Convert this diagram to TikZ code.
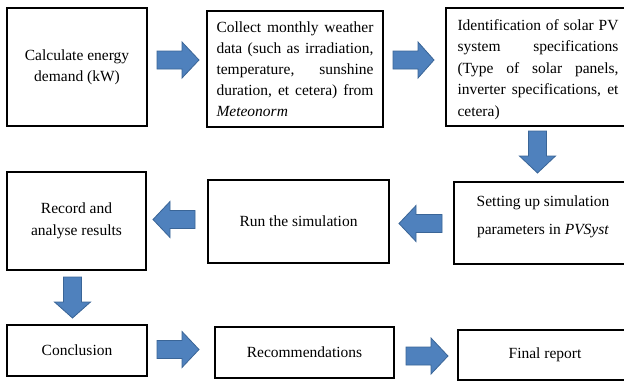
\documentclass[tikz,border=0pt]{standalone}
\usepackage{fontspec}
\setmainfont{Liberation Serif}
\definecolor{arrowfill}{HTML}{4F81BD}
\definecolor{arrowline}{HTML}{3A6597}
\newcommand\fl[2]{\makebox[#1][l]{#2}}
\tikzset{
  box/.style={draw=black, line width=1.8pt, rectangle, inner sep=0pt, align=center,
    font=\fontsize{15.5}{21}\selectfont},
  boxtext/.style={inner sep=0pt, align=center, font=\fontsize{15.5}{21}\selectfont},
  blockarrow/.style={fill=arrowfill, draw=arrowline, line width=0.8pt, line join=miter},
}
% right-pointing block arrow: x0, x1 (tip), yc, head start x
\newcommand\rblock[4]{\draw[blockarrow] (#1,#3-9) -- (#4,#3-9) -- (#4,#3-18) -- (#2,#3) -- (#4,#3+18) -- (#4,#3+9) -- (#1,#3+9) -- cycle;}
% left-pointing block arrow: x0 (tail), x1 (tip), yc, head start x
\newcommand\lblock[4]{\draw[blockarrow] (#1,#3-9) -- (#4,#3-9) -- (#4,#3-18) -- (#2,#3) -- (#4,#3+18) -- (#4,#3+9) -- (#1,#3+9) -- cycle;}
% down-pointing block arrow: xc, y0, y1 (tip), head start y
\newcommand\dblock[4]{\draw[blockarrow] (#1-9,#2) -- (#1+9,#2) -- (#1+9,#4) -- (#1+18,#4) -- (#1,#3) -- (#1-18,#4) -- (#1-9,#4) -- cycle;}
\begin{document}
\begin{tikzpicture}[x=1pt,y=-1pt]
\clip (0,0) rectangle (624,381);
\fill[white] (0,0) rectangle (624,381);

% row 1
\node[box, minimum width=140pt, minimum height=118pt] (b1) at (77,67)
  {Calculate energy\\demand (kW)};
\node[box, minimum width=176pt, minimum height=116pt, text width=157pt, align=left] (b2) at (295,69)
  {\fl{157pt}{Collect\hfill monthly\hfill weather}\\
   \fl{157pt}{data\hfill (such\hfill as\hfill irradiation,}\\
   \fl{157pt}{temperature,\hfill sunshine}\\
   \fl{157pt}{duration,\hfill et\hfill cetera)\hfill from}\\
   \textit{Meteonorm}};
\node[box, minimum width=184pt, minimum height=118pt] (b3) at (538,67) {};
\node[boxtext, text width=161pt, align=left, font=\fontsize{15.5}{21.5}\selectfont]
  (b3t) at ([yshift=-2.5pt]b3.center)
  {\fl{161pt}{Identification\hfill of\hfill solar\hfill PV}\\
   \fl{161pt}{system\hfill specifications}\\
   \fl{161pt}{(Type\hfill of\hfill solar\hfill panels,}\\
   \fl{161pt}{inverter\hfill specifications,\hfill et}\\
   cetera)};

% row 2
\node[box, minimum width=139pt, minimum height=98pt, font=\fontsize{15.5}{22.5}\selectfont] (b4) at (76.5,221)
  {Record and\\analyse results};
\node[box, minimum width=181pt, minimum height=83pt] (b5) at (298.5,221.5)
  {Run the simulation};
\node[box, minimum width=178pt, minimum height=82pt] (b6) at (543,223) {};
\node[boxtext, font=\fontsize{15.5}{28}\selectfont] (b6t) at ([yshift=6pt]b6.center)
  {Setting up simulation\\parameters in \textit{PVSyst}};

% row 3
\node[box, minimum width=140pt, minimum height=51pt] (b7) at (77,350.5) {Conclusion};
\node[box, minimum width=179pt, minimum height=51pt] (b8) at (304.5,352.5) {Recommendations};
\node[box, minimum width=174pt, minimum height=50pt] (b9) at (545,355) {Final report};

% block arrows
\rblock{157}{199}{60}{182}
\rblock{393}{434}{60}{418}
\dblock{537.5}{131}{173}{156}
\lblock{442}{399}{223.5}{416}
\lblock{195}{153}{219.5}{170}
\dblock{72.5}{277}{318}{302}
\rblock{157}{199}{349.5}{182}
\rblock{406}{448}{356}{431}
\end{tikzpicture}
\end{document}
